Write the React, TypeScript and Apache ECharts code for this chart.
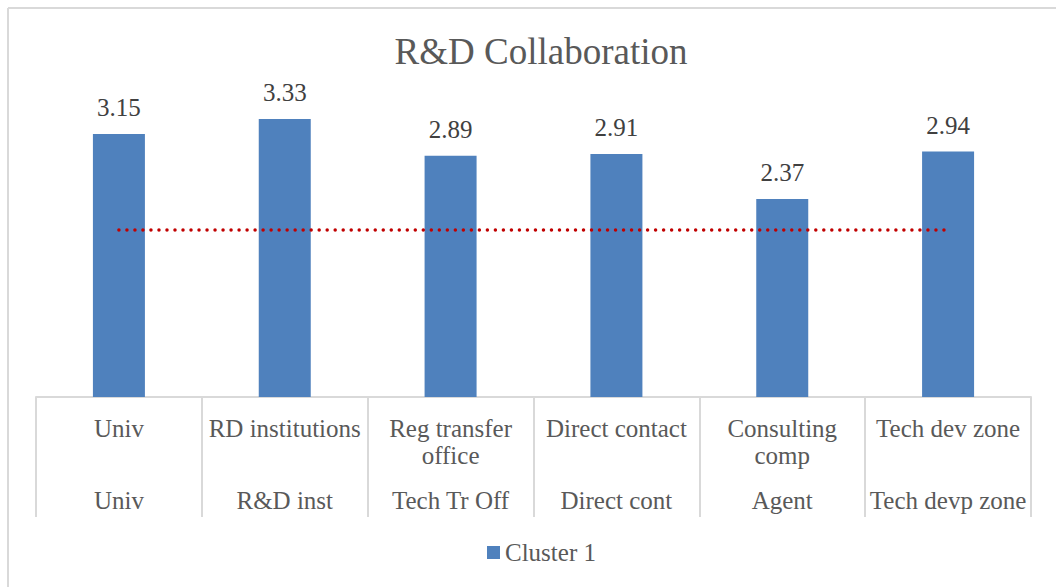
import React, { useEffect, useRef } from "react";
import * as echarts from "echarts";

const categoriesTop = ["Univ", "RD institutions", "Reg transfer\noffice", "Direct contact", "Consulting\ncomp", "Tech dev zone"];
const categoriesBottom = ["Univ", "R&D inst", "Tech Tr Off", "Direct cont", "Agent", "Tech devp zone"];
const clusterValues = [3.15, 3.33, 2.89, 2.91, 2.37, 2.94];
const referenceValues = [2, 2, 2, 2, 2, 2];

const FONT = "'Liberation Serif', 'Times New Roman', serif";

export default function App() {
  const ref = useRef<HTMLDivElement>(null);
  useEffect(() => {
    if (!ref.current) return;
    const chart = echarts.init(ref.current, null, { renderer: "svg" });
    chart.setOption({
      animation: false,
      backgroundColor: "#ffffff",
      textStyle: { fontFamily: FONT },
      title: {
        text: "R&D Collaboration",
        left: 536,
        textAlign: "center",
        top: 28,
        textStyle: { fontFamily: FONT, fontSize: 37, fontWeight: "normal", color: "#595959" },
      },
      legend: {
        data: ["Cluster 1"],
        left: 482,
        top: 535,
        icon: "rect",
        itemWidth: 13,
        itemHeight: 13,
        itemGap: 10,
        textStyle: { fontFamily: FONT, fontSize: 25, color: "#595959" },
      },
      grid: { left: 36, right: 25, top: 63, bottom: 190, containLabel: false },
      xAxis: [
        {
          type: "category",
          data: categoriesTop,
          position: "bottom",
          axisLine: { show: true, lineStyle: { color: "#d9d9d9", width: 2 } },
          axisTick: { show: true, interval: 0, length: 120, lineStyle: { color: "#d9d9d9", width: 2 } },
          axisLabel: {
            interval: 0,
            margin: 18,
            fontFamily: FONT,
            fontSize: 25,
            lineHeight: 27,
            color: "#595959",
          },
        },
        {
          type: "category",
          data: categoriesBottom,
          position: "bottom",
          offset: 72,
          axisLine: { show: false },
          axisTick: { show: false },
          axisLabel: {
            interval: 0,
            margin: 18,
            fontFamily: FONT,
            fontSize: 25,
            lineHeight: 27,
            color: "#595959",
          },
        },
      ],
      yAxis: {
        type: "value",
        min: 0,
        max: 4,
        show: false,
        splitLine: { show: false },
      },
      series: [
        {
          name: "Cluster 1",
          type: "bar",
          data: clusterValues,
          barWidth: 52,
          itemStyle: { color: "#4F81BD" },
          label: {
            show: true,
            position: "top",
            distance: 14,
            fontFamily: FONT,
            fontSize: 25,
            color: "#404040",
            formatter: (p: any) => p.value.toFixed(2),
          },
          z: 2,
        },
        {
          name: "Reference",
          type: "line",
          data: referenceValues,
          symbol: "none",
          z: 5,
          lineStyle: { color: "#C00000", width: 3.5, type: [0.01, 8], cap: "round" },
          itemStyle: { color: "#C00000" },
        },
      ],
      graphic: [
        { type: "line", shape: { x1: 8, y1: 8, x2: 1056, y2: 8 }, style: { stroke: "#d9d9d9", lineWidth: 2 } },
        { type: "line", shape: { x1: 8, y1: 8, x2: 8, y2: 587 }, style: { stroke: "#d9d9d9", lineWidth: 2 } },
      ],
    });
    return () => chart.dispose();
  }, []);
  return (
    <div
      ref={ref}
      style={{ position: "absolute", left: 0, top: 0, width: 1056, height: 587 }}
    />
  );
}
